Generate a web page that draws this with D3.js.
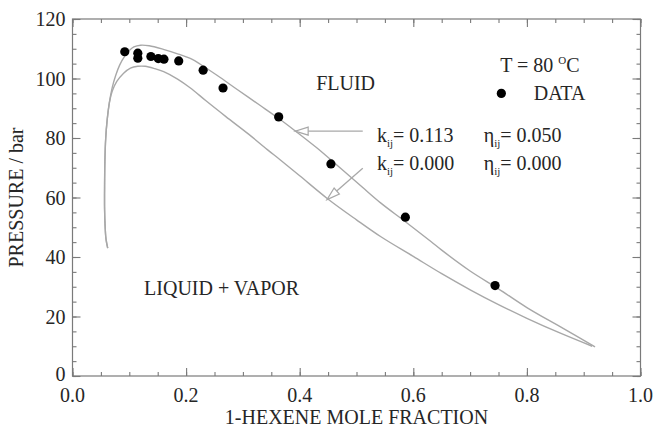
<!DOCTYPE html>
<html>
<head>
<meta charset="utf-8">
<script src="https://cdn.jsdelivr.net/npm/d3@7/dist/d3.min.js"></script>
<style>
  html, body { margin: 0; padding: 0; background: #fff; }
  svg text { font-family: "Liberation Serif", "Times New Roman", serif; fill: #262626; }
</style>
</head>
<body>
<svg id="chart" width="653" height="428"></svg>
<script>
// ---- data ----
const dataX = [0.092, 0.115, 0.115, 0.138, 0.151, 0.161, 0.187, 0.230, 0.265, 0.363, 0.455, 0.586, 0.744];
const dataP = [109.0, 108.5, 106.8, 107.4, 106.7, 106.5, 105.9, 102.8, 96.8, 87.1, 71.3, 53.4, 30.4];

// k_ij = 0.113, eta_ij = 0.050
const upperX = [0.062, 0.059, 0.0575, 0.0565, 0.0565, 0.057, 0.0585, 0.061, 0.065, 0.070, 0.076, 0.083, 0.092, 0.100, 0.108, 0.120, 0.135, 0.160, 0.185, 0.210, 0.225, 0.255, 0.290, 0.330, 0.365, 0.390, 0.430, 0.472, 0.510, 0.543, 0.585, 0.631, 0.650, 0.700, 0.750, 0.800, 0.860, 0.920];
const upperP = [43, 46, 50, 56, 64, 72, 80, 86, 92, 97, 101, 104.5, 107.5, 109.4, 110.6, 111.2, 111.0, 109.8, 108.3, 106.5, 104.8, 101.0, 96.3, 91.0, 86.3, 82.7, 76.7, 69.8, 63.5, 58.1, 52.0, 45.2, 42.3, 35.3, 29.3, 23.0, 16.4, 9.8];

// k_ij = 0.000, eta_ij = 0.000
const lowerX = [0.062, 0.059, 0.0575, 0.0565, 0.0565, 0.057, 0.0585, 0.061, 0.065, 0.070, 0.078, 0.090, 0.102, 0.115, 0.128, 0.145, 0.1605, 0.185, 0.2076, 0.235, 0.270, 0.310, 0.343, 0.366, 0.400, 0.449, 0.500, 0.543, 0.600, 0.650, 0.701, 0.750, 0.800, 0.860, 0.915];
const lowerP = [43, 46, 50, 56, 64, 72, 80, 86, 92, 95.8, 99.0, 101.8, 103.5, 104.1, 104.1, 103.3, 102.3, 99.8, 96.8, 92.5, 87.2, 81.3, 76.1, 72.6, 67.3, 59.6, 52.5, 46.8, 40.2, 34.4, 28.9, 24.0, 19.4, 14.3, 10.0];

const xMajor = [0.0, 0.2, 0.4, 0.6, 0.8, 1.0];
const xMinor = d3.range(0, 1.0001, 0.05);
const yMajor = [0, 20, 40, 60, 80, 100, 120];
const yMinor = d3.range(0, 120.001, 5);

const xTitle = "1-HEXENE MOLE FRACTION";
const yTitle = "PRESSURE / bar";

// ---- layout ----
const svg = d3.select("#chart");
const L = 72.5, R = 640.5, T = 19, B = 376;
const x = d3.scaleLinear().domain([0, 1]).range([L, R]);
const y = d3.scaleLinear().domain([0, 120]).range([B, T]);
const FS = 20;
const axisColor = "#7a7a7a";
const curveColor = "#a8a8a8";

// frame
svg.append("rect").attr("x", L).attr("y", T).attr("width", R - L).attr("height", B - T)
  .attr("fill", "none").attr("stroke", axisColor).attr("stroke-width", 1.2);

function styleAxis(g) {
  g.select(".domain").remove();
  g.selectAll(".tick line").attr("stroke", axisColor).attr("stroke-width", 1.1);
  g.selectAll("text").remove();
}
// inward ticks
svg.append("g").attr("transform", `translate(0,${B})`).call(d3.axisBottom(x).tickValues(xMinor).tickSize(-4)).call(styleAxis);
svg.append("g").attr("transform", `translate(0,${B})`).call(d3.axisBottom(x).tickValues(xMajor).tickSize(-8)).call(styleAxis);
svg.append("g").attr("transform", `translate(0,${T})`).call(d3.axisTop(x).tickValues(xMinor).tickSize(-4)).call(styleAxis);
svg.append("g").attr("transform", `translate(0,${T})`).call(d3.axisTop(x).tickValues(xMajor).tickSize(-8)).call(styleAxis);
svg.append("g").attr("transform", `translate(${L},0)`).call(d3.axisLeft(y).tickValues(yMinor).tickSize(-4)).call(styleAxis);
svg.append("g").attr("transform", `translate(${L},0)`).call(d3.axisLeft(y).tickValues(yMajor).tickSize(-8)).call(styleAxis);
svg.append("g").attr("transform", `translate(${R},0)`).call(d3.axisRight(y).tickValues(yMinor).tickSize(-4)).call(styleAxis);
svg.append("g").attr("transform", `translate(${R},0)`).call(d3.axisRight(y).tickValues(yMajor).tickSize(-8)).call(styleAxis);

// tick labels
svg.append("g").selectAll("text").data(xMajor).join("text")
  .attr("x", d => x(d)).attr("y", B + 26).attr("text-anchor", "middle")
  .attr("font-size", FS).text(d => d3.format(".1f")(d));
svg.append("g").selectAll("text").data(yMajor).join("text")
  .attr("x", L - 7).attr("y", d => y(d) + (d === 0 ? 5 : 7)).attr("text-anchor", "end")
  .attr("font-size", FS).text(d => d);

// axis titles
svg.append("text").attr("x", (L + R) / 2).attr("y", 424).attr("text-anchor", "middle")
  .attr("font-size", FS).text(xTitle);
svg.append("text").attr("transform", `translate(23,${(T + B) / 2}) rotate(-90)`)
  .attr("text-anchor", "middle").attr("font-size", FS).text(yTitle);

// curves
const line = d3.line().x(d => x(d[0])).y(d => y(d[1])).curve(d3.curveCatmullRom.alpha(0.5));
svg.append("path").datum(d3.zip(lowerX, lowerP)).attr("d", line)
  .attr("fill", "none").attr("stroke", curveColor).attr("stroke-width", 1.4);
svg.append("path").datum(d3.zip(upperX, upperP)).attr("d", line)
  .attr("fill", "none").attr("stroke", curveColor).attr("stroke-width", 1.4);

// data points
svg.append("g").selectAll("circle").data(d3.zip(dataX, dataP)).join("circle")
  .attr("cx", d => x(d[0])).attr("cy", d => y(d[1])).attr("r", 4.6).attr("fill", "#000");

// arrows (open triangle heads)
function arrow(x0, p0, x1, p1) {
  const ax = x(x0), ay = y(p0), bx = x(x1), by = y(p1);
  svg.append("line").attr("x1", ax).attr("y1", ay).attr("x2", bx).attr("y2", by)
    .attr("stroke", curveColor).attr("stroke-width", 1.3);
  const ang = Math.atan2(ay - by, ax - bx);
  const len = 13, w = 4;
  const cx = bx + len * Math.cos(ang), cy = by + len * Math.sin(ang);
  const px = -Math.sin(ang) * w, py = Math.cos(ang) * w;
  svg.append("path")
    .attr("d", `M${bx},${by}L${cx + px},${cy + py}L${cx - px},${cy - py}Z`)
    .attr("fill", "#fff").attr("stroke", curveColor).attr("stroke-width", 1.2);
}
arrow(0.511, 82.3, 0.392, 82.3);
arrow(0.511, 69.8, 0.448, 59.3);

// annotations
svg.append("text").attr("x", x(0.429)).attr("y", y(96.0)).attr("font-size", FS).text("FLUID");
svg.append("text").attr("x", x(0.126)).attr("y", y(27.2)).attr("font-size", FS).text("LIQUID + VAPOR");

const tT = svg.append("text").attr("x", x(0.753)).attr("y", y(102.3)).attr("font-size", FS);
tT.append("tspan").text("T = 80 ");
tT.append("tspan").attr("font-size", 11).attr("dy", -8).text("O");
tT.append("tspan").attr("dy", 8).text("C");

svg.append("circle").attr("cx", x(0.755)).attr("cy", y(95.0)).attr("r", 4.6).attr("fill", "#000");
svg.append("text").attr("x", x(0.812)).attr("y", y(92.8)).attr("font-size", FS).text("DATA");

function paramLabel(sym, xv, pv, val) {
  const t = svg.append("text").attr("x", x(xv)).attr("y", y(pv)).attr("font-size", FS);
  t.append("tspan").text(sym);
  t.append("tspan").attr("font-size", 11).attr("dy", 5).text("ij");
  t.append("tspan").attr("dy", -5).text("= " + val);
}
paramLabel("k", 0.536, 78.8, "0.113");
paramLabel("k", 0.536, 69.2, "0.000");
paramLabel("\u03B7", 0.724, 78.8, "0.050");
paramLabel("\u03B7", 0.724, 69.2, "0.000");
</script>
</body>
</html>
